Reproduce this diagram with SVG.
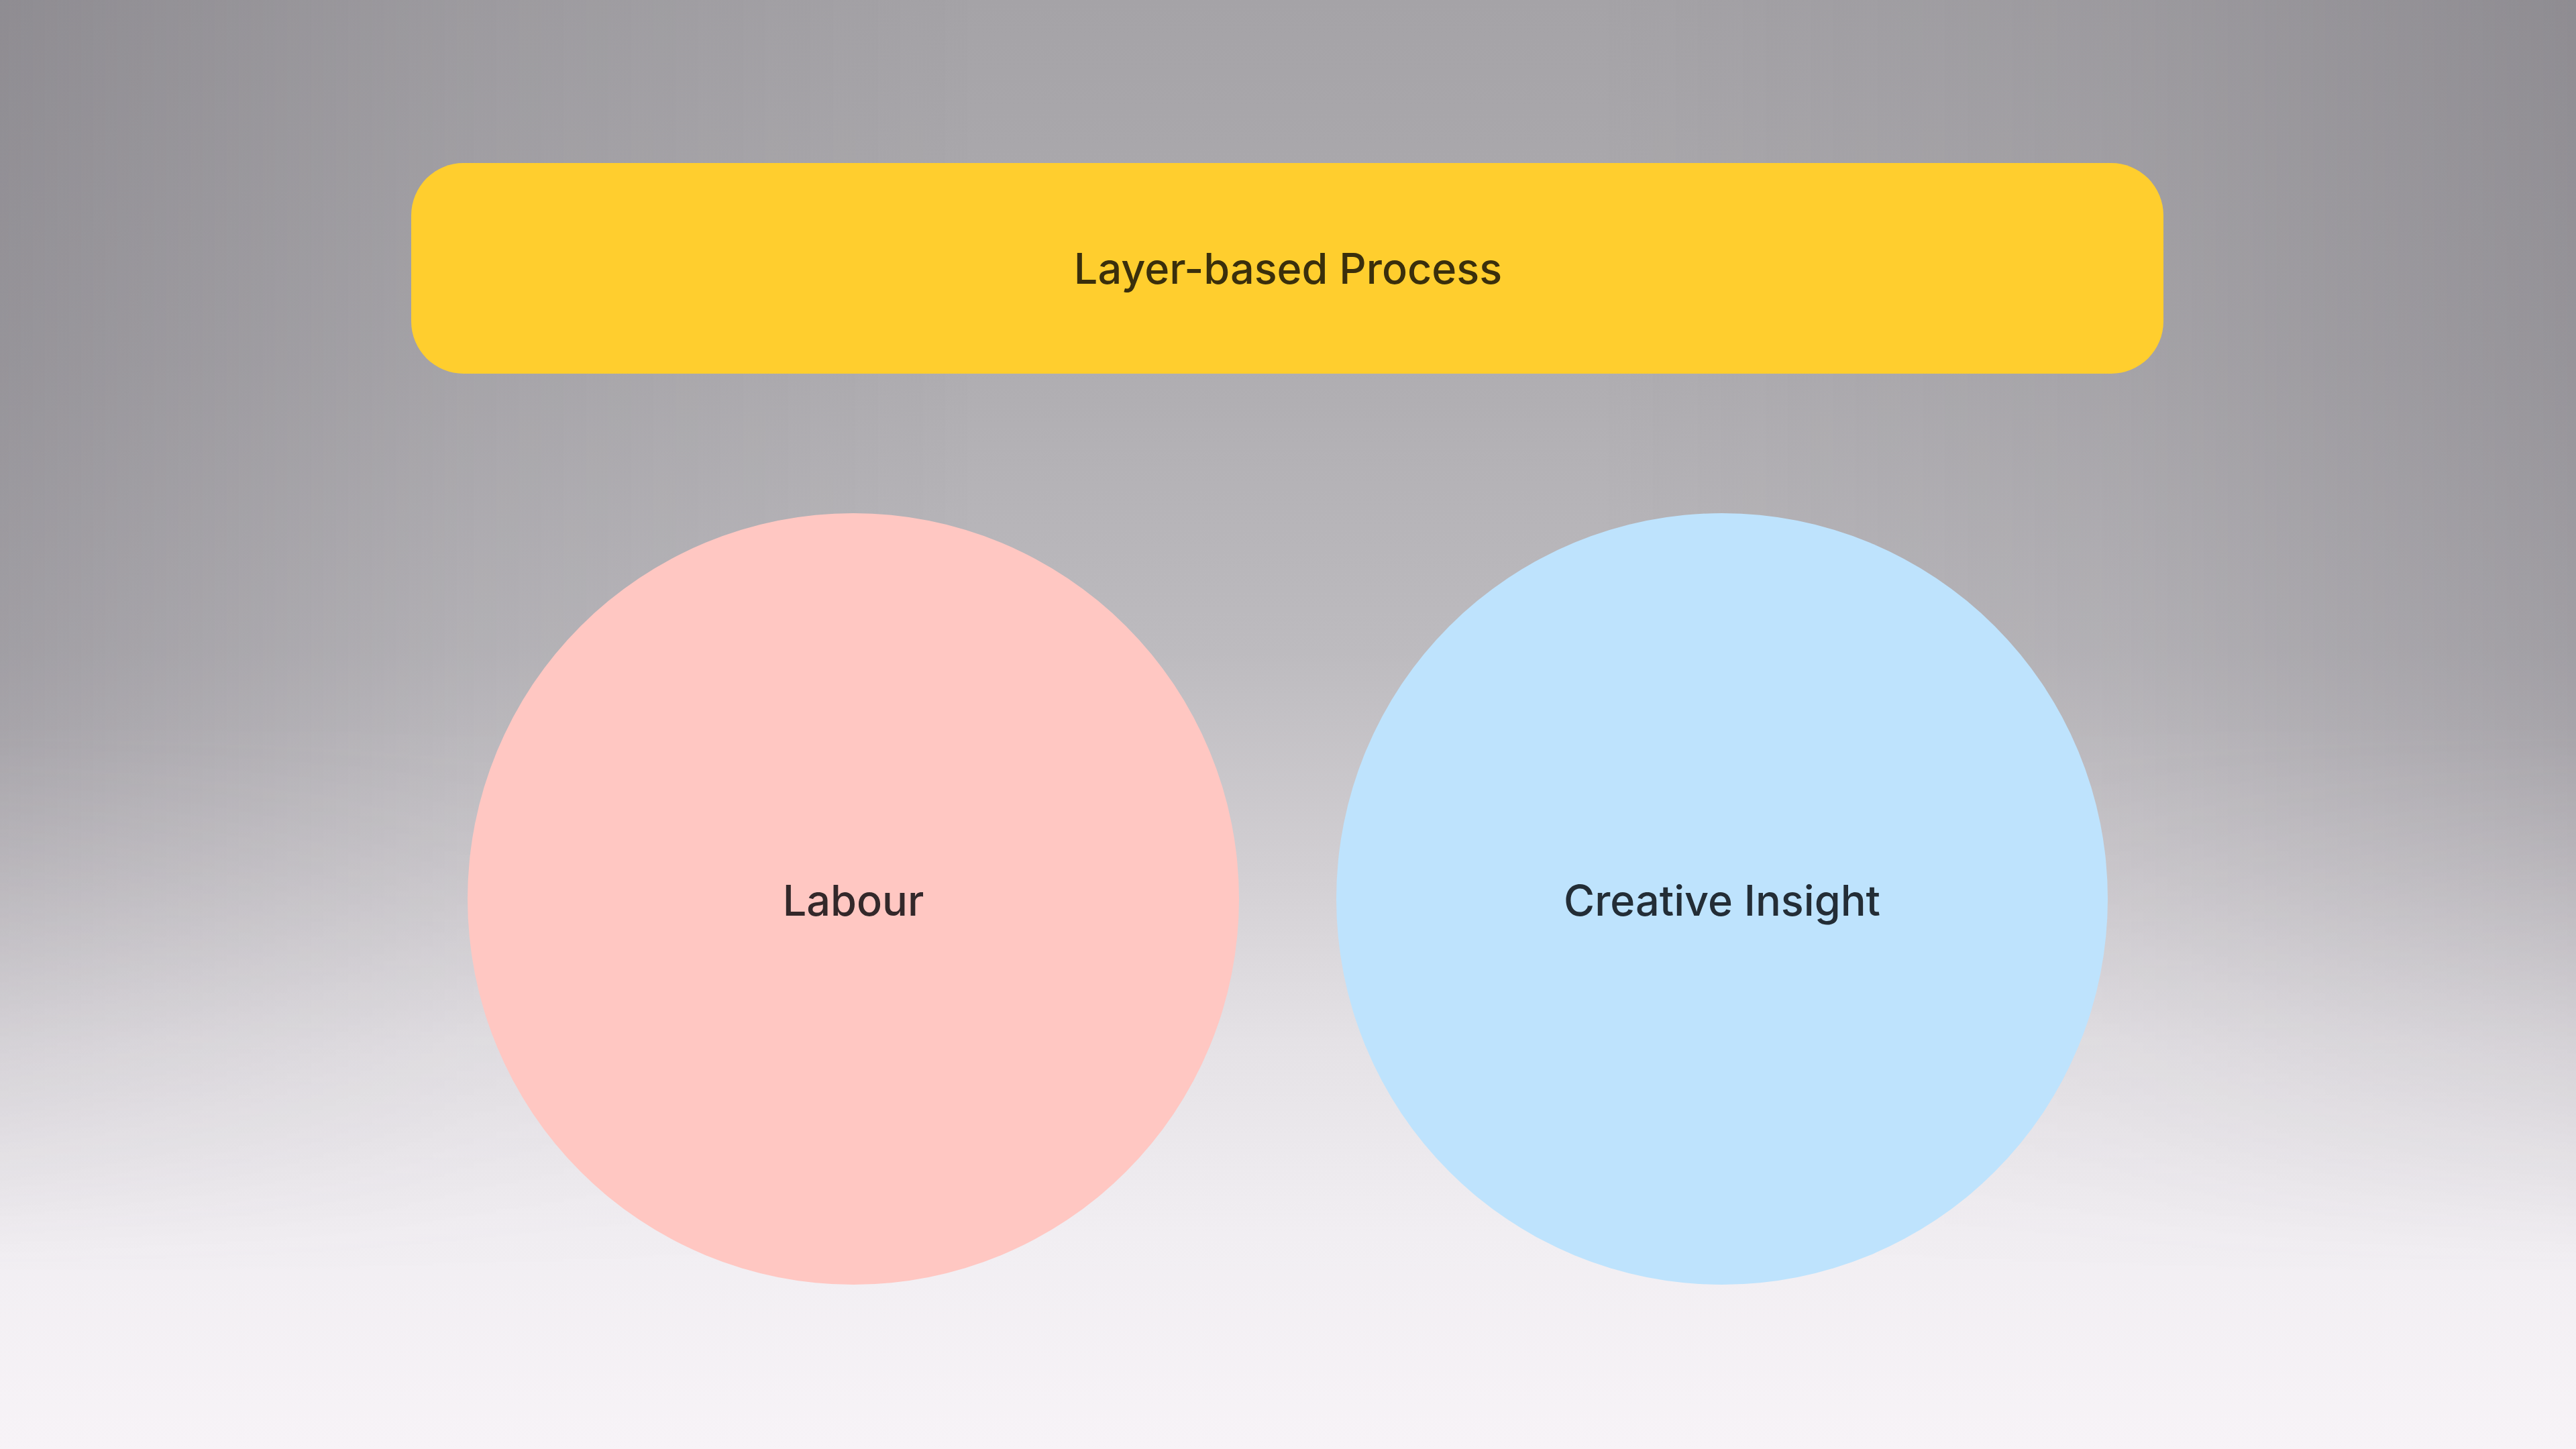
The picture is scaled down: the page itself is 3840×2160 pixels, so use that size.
<svg xmlns="http://www.w3.org/2000/svg" width="3840" height="2160" viewBox="0 0 3840 2160">
  <defs>
    <linearGradient id="bg" x1="0" y1="0" x2="0" y2="1">
      <stop offset="0" stop-color="#a5a3a7"/>
      <stop offset="0.25" stop-color="#afadb1"/>
      <stop offset="0.45" stop-color="#bdbbbf"/>
      <stop offset="0.6" stop-color="#d2cfd3"/>
      <stop offset="0.72" stop-color="#e5e2e6"/>
      <stop offset="0.85" stop-color="#f1eef2"/>
      <stop offset="1" stop-color="#f7f3f7"/>
    </linearGradient>
    <linearGradient id="side" x1="0" y1="0" x2="1" y2="0">
      <stop offset="0" stop-color="#4a4650" stop-opacity="0.24"/>
      <stop offset="0.18" stop-color="#4a4650" stop-opacity="0.09"/>
      <stop offset="0.38" stop-color="#4a4650" stop-opacity="0"/>
      <stop offset="0.62" stop-color="#4a4650" stop-opacity="0"/>
      <stop offset="0.82" stop-color="#4a4650" stop-opacity="0.09"/>
      <stop offset="1" stop-color="#4a4650" stop-opacity="0.24"/>
    </linearGradient>
    <linearGradient id="fade" x1="0" y1="0" x2="0" y2="1">
      <stop offset="0" stop-color="#fff"/>
      <stop offset="0.5" stop-color="#fff"/>
      <stop offset="0.88" stop-color="#000"/>
    </linearGradient>
    <mask id="sideMask">
      <rect x="0" y="0" width="3840" height="2160" fill="url(#fade)"/>
    </mask>
    <style>
      .lbl { font-family: Inter, "Liberation Sans", sans-serif; font-size: 63px; font-weight: 500; text-anchor: middle; }
    </style>
  </defs>
  <rect x="0" y="0" width="3840" height="2160" fill="url(#bg)"/>
  <rect x="0" y="0" width="3840" height="2160" fill="url(#side)" mask="url(#sideMask)"/>

  <g id="connectors"></g>

  <g id="node-process">
    <rect x="613" y="243" width="2612" height="314" rx="78" ry="78" fill="#ffce2e"/>
    <text class="lbl" x="1920" y="423" fill="#3a2f0c">Layer-based Process</text>
  </g>
  <g id="node-labour">
    <circle cx="1272" cy="1340" r="575" fill="#ffc7c2"/>
    <text class="lbl" x="1272" y="1365" fill="#33282a">Labour</text>
  </g>
  <g id="node-insight">
    <circle cx="2567" cy="1340" r="575" fill="#bee3fd"/>
    <text class="lbl" x="2567" y="1365" fill="#232d36">Creative Insight</text>
  </g>
</svg>
